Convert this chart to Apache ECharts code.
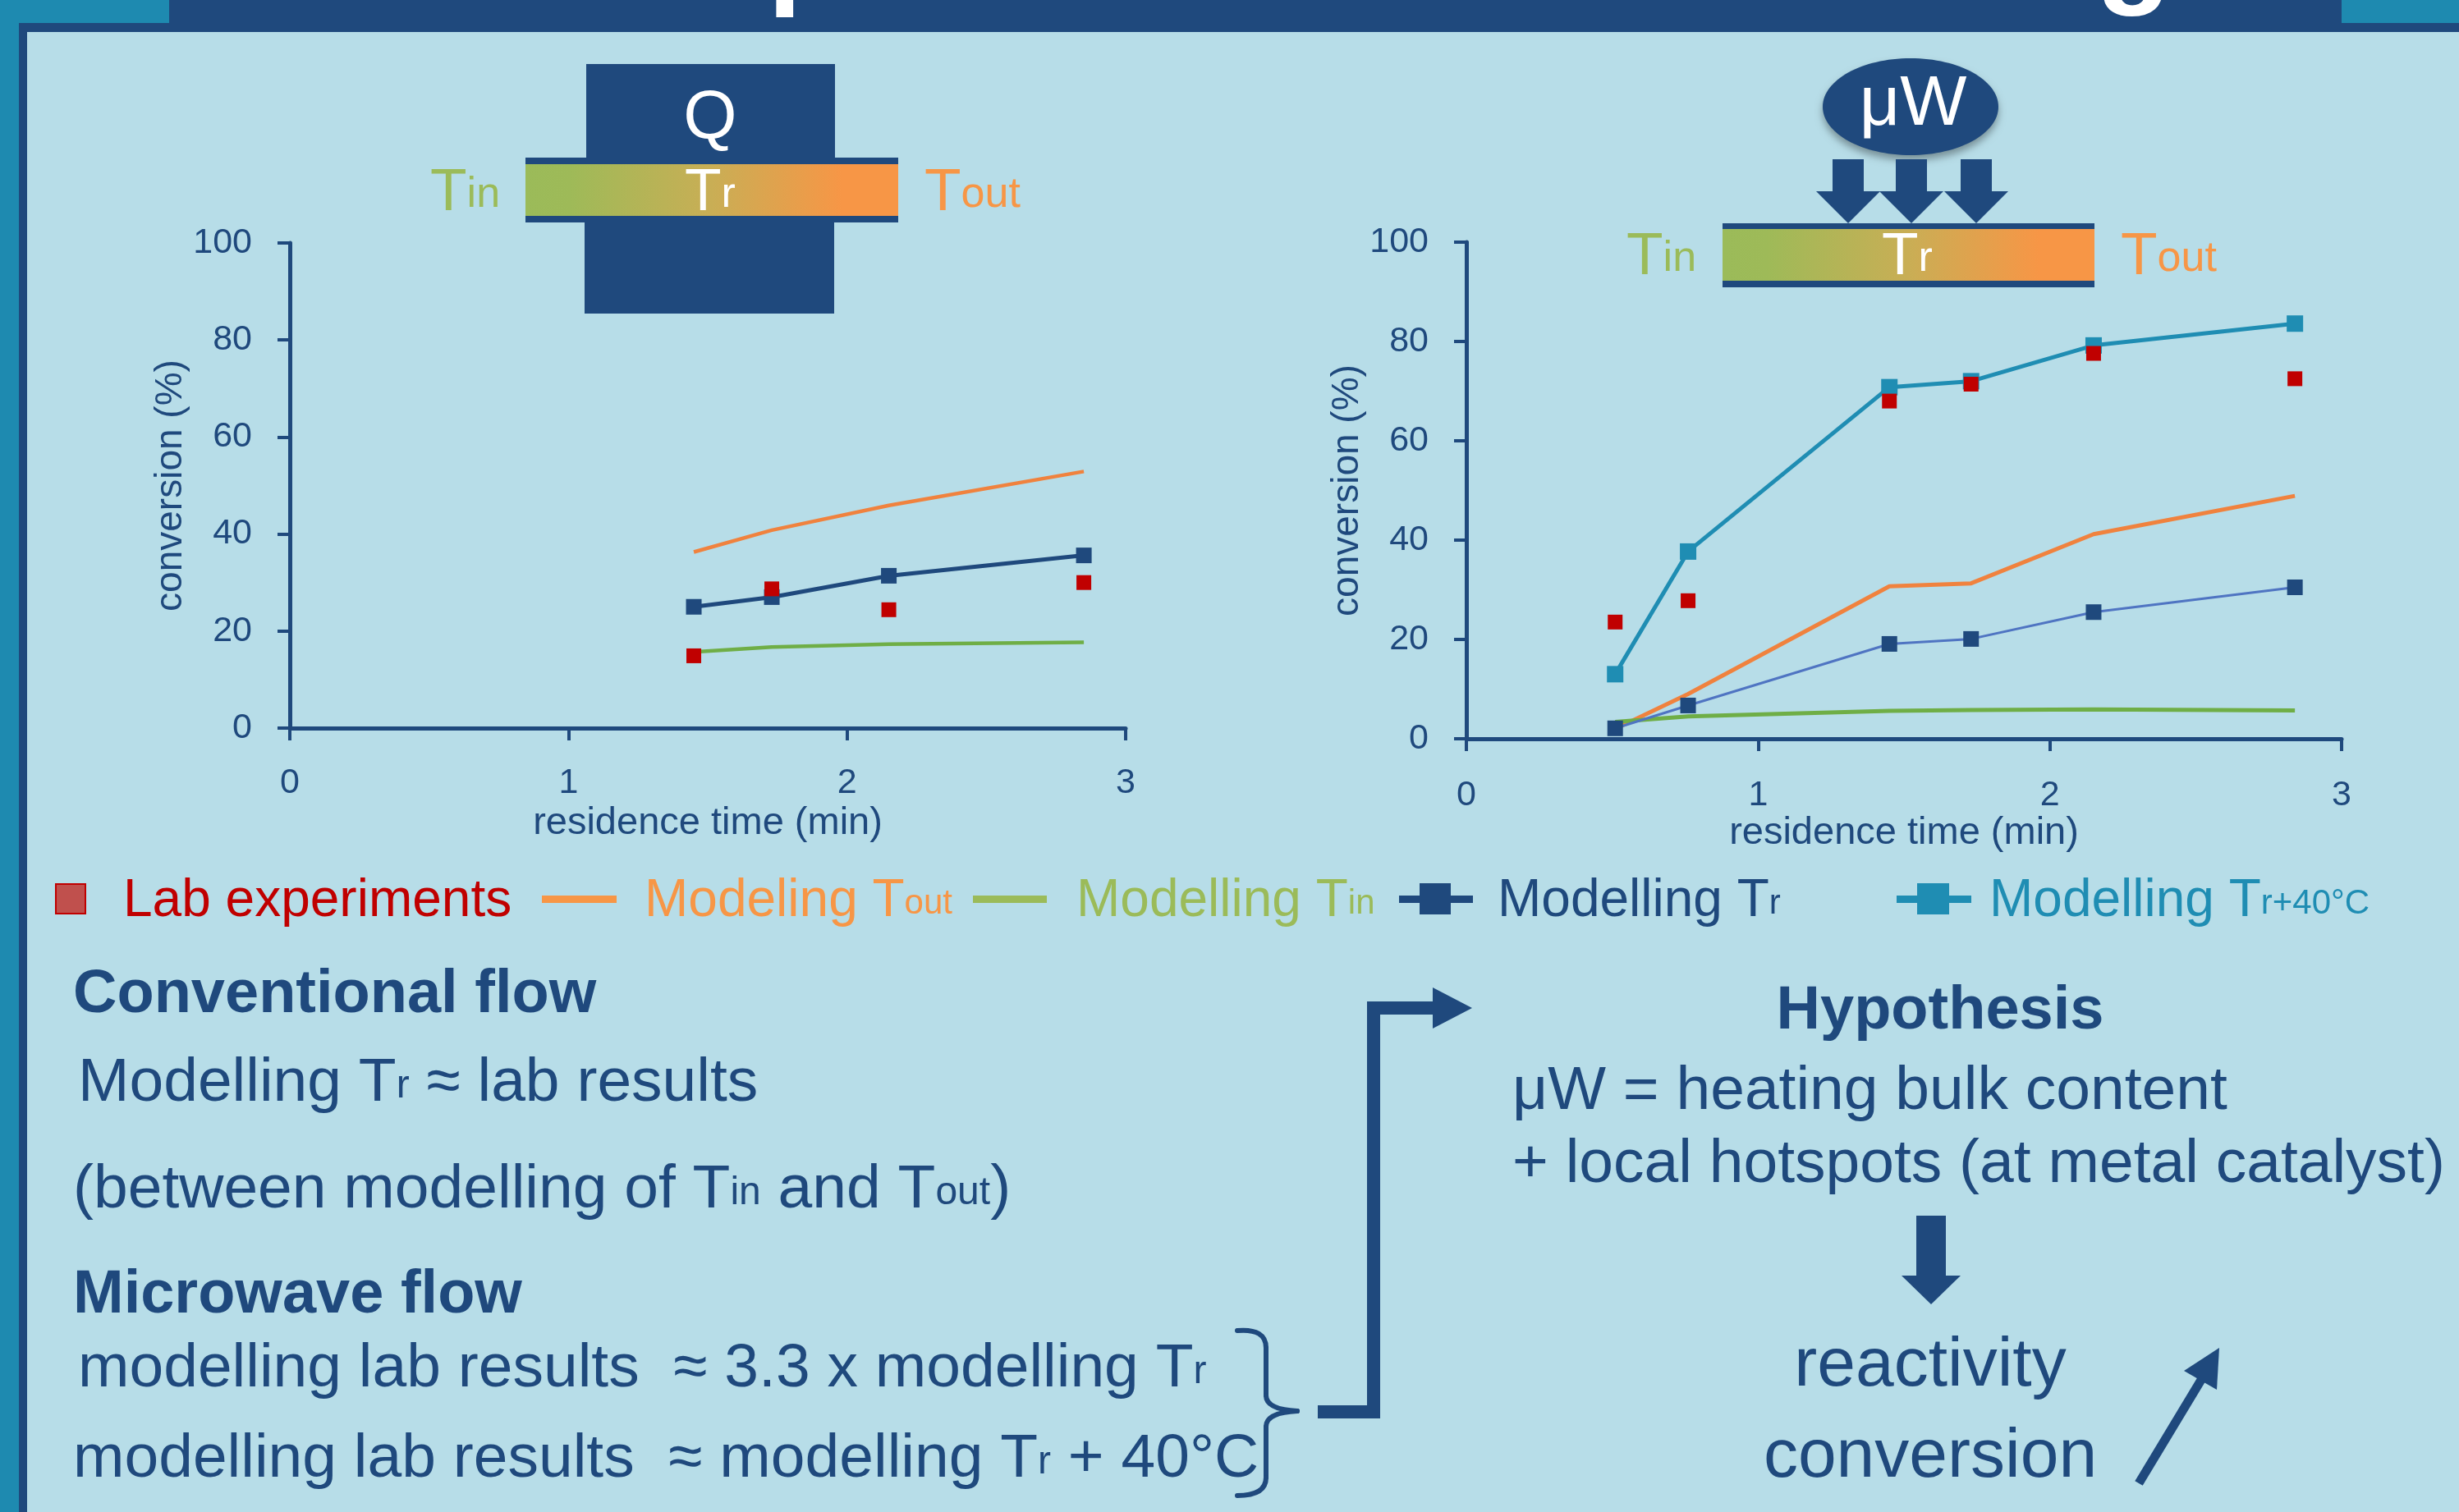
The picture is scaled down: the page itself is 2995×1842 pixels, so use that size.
<!DOCTYPE html>
<html><head><meta charset="utf-8">
<script src="https://cdn.jsdelivr.net/npm/echarts@6/dist/echarts.min.js"></script>
<style>html,body{margin:0;padding:0;background:#B7DDE8;overflow:hidden}#c{width:2995px;height:1842px}</style>
</head><body><div id="c"></div>
<script>
// ---------- DATA ----------
const xTickLabels = [0, 1, 2, 3];
const yTickLabels = [0, 20, 40, 60, 80, 100];

// Conventional flow (left chart)
const convTime = [1.45, 1.73, 2.15, 2.85];
const convLab  = [14.9, 28.7, 24.4, 30.0];
const convTout = [36.3, 40.8, 45.9, 52.9];
const convTin  = [15.7, 16.7, 17.3, 17.7];
const convTr   = [25.0, 27.0, 31.4, 35.6];

// Microwave flow (right chart)
const mwTime  = [0.51, 0.76, 1.45, 1.73, 2.15, 2.84];
const mwLab   = [23.5, 27.8, 68.0, 71.4, 77.6, 72.5];
const mwTout  = [2.0, 9.0, 30.7, 31.3, 41.2, 48.9];
const mwTin   = [3.4, 4.5, 5.6, 5.8, 5.9, 5.7];
const mwTr    = [2.1, 6.7, 19.1, 20.1, 25.5, 30.5];
const mwTr40  = [13.0, 37.7, 70.8, 72.0, 79.2, 83.6];

// ---------- STYLE ----------
const DB = '#1F497D', CY = '#1E8AB0', TEAL = '#1F8DB3', RED = '#C00000';
const ORANGE = '#F79646', GREEN = '#9BBB59', ORL = '#F0823E', GRL = '#6FAE46';
const F = '"Liberation Sans", Arial, sans-serif';

const zip = (xs, ys) => xs.map((x, i) => [x, ys[i]]);

// ---------- GRAPHIC HELPERS ----------
function rect(x, y, w, h, fill, extra) {
  return Object.assign({type: 'rect', silent: true, shape: {x, y, width: w, height: h}, style: {fill}}, extra || {});
}
function poly(points, fill) {
  return {type: 'polygon', silent: true, shape: {points}, style: {fill}};
}
function seg(x1, y1, x2, y2, w) {
  return {type: 'line', silent: true, shape: {x1, y1, x2, y2}, style: {stroke: DB, lineWidth: w, lineCap: 'round'}};
}
function qcurve(x1, y1, cx, cy, x2, y2, w) {
  return {type: 'bezierCurve', silent: true, shape: {x1, y1, cpx1: cx, cpy1: cy, x2, y2}, style: {stroke: DB, lineWidth: w, fill: 'none', lineCap: 'round'}};
}
function rtext(x, baseline, parts, color, fsMain, fsSub, opt) {
  opt = opt || {};
  const w = opt.bold ? 'bold' : 'normal';
  const pb = Math.round(0.36 * (fsMain - fsSub));
  const rich = {
    m: {fontSize: fsMain, lineHeight: fsMain, verticalAlign: 'bottom', fill: color, fontFamily: F, fontWeight: w},
    s: {fontSize: fsSub, padding: [0, 0, pb, 0], verticalAlign: 'bottom', fill: color, fontFamily: F, fontWeight: w}
  };
  return {
    type: 'text', silent: true, z: opt.z || 10,
    style: {
      text: parts.map(p => '{' + p[1] + '|' + p[0] + '}').join(''),
      rich, x, y: baseline + 0.18 * fsMain, align: opt.align || 'left', verticalAlign: 'bottom',
      fill: color, fontSize: fsMain, fontFamily: F
    }
  };
}
function grad() {
  return new echarts.graphic.LinearGradient(0, 0, 1, 0, [
    {offset: 0, color: '#9BBB59'}, {offset: 0.12, color: '#9EBA58'},
    {offset: 0.5, color: '#C9AE55'}, {offset: 0.85, color: '#F79646'}, {offset: 1, color: '#F79646'}
  ]);
}

const g = [];
// header & frame
g.push(rect(0, 0, 2995, 28, CY));
g.push(rect(206, 0, 2646, 28, DB));
g.push(rect(23, 28, 2972, 11, DB));
g.push(rect(0, 0, 23, 1842, CY));
g.push(rect(23, 28, 10, 1814, DB));
// title fragments (cut off at top)
g.push({type: 'text', silent: true, z: 20, style: {text: 'p', x: 935, y: 24, fontSize: 150, fontWeight: 'bold', fontFamily: F, fill: '#fff', align: 'left', verticalAlign: 'bottom'}});
g.push({type: 'text', silent: true, z: 20, style: {text: 'g', x: 2553, y: 22, fontSize: 150, fontWeight: 'bold', fontFamily: F, fill: '#fff', align: 'left', verticalAlign: 'bottom'}});

// left diagram (conventional heating)
g.push(rect(714, 78, 303, 114, DB));
g.push(rect(640, 192, 454, 8, DB));
g.push(rect(640, 200, 454, 63, grad()));
g.push(rect(640, 263, 454, 8, DB));
g.push(rect(712, 271, 304, 111, DB));
g.push({type: 'text', silent: true, z: 10, style: {text: 'Q', x: 865, y: 172 + 0.18 * 84, fontSize: 84, fontFamily: F, fill: '#fff', align: 'center', verticalAlign: 'bottom'}});
g.push(rtext(524, 259, [['T', 'm'], ['in', 's']], GREEN, 73, 52));
g.push(rtext(834, 259, [['T', 'm'], ['r', 's']], '#fff', 73, 52));
g.push(rtext(1126, 259, [['T', 'm'], ['out', 's']], ORANGE, 73, 52));

// right diagram (microwave)
g.push({type: 'ellipse', silent: true, shape: {cx: 2327, cy: 130, rx: 107, ry: 59},
  style: {fill: DB, shadowBlur: 10, shadowOffsetY: 6, shadowColor: 'rgba(0,0,0,0.35)'}});
g.push({type: 'text', silent: true, z: 10, style: {text: 'μW', x: 2330, y: 156 + 0.18 * 86, fontSize: 86, fontFamily: F, fill: '#fff', align: 'center', verticalAlign: 'bottom'}});
[2251, 2328, 2407].forEach(cx => {
  g.push(rect(cx - 19, 194, 38, 40, DB));
  g.push(poly([[cx - 39, 233], [cx + 39, 233], [cx, 272]], DB));
});
g.push(rect(2098, 272, 453, 7, DB));
g.push(rect(2098, 279, 453, 63, grad()));
g.push(rect(2098, 342, 453, 8, DB));
g.push(rtext(1981, 337, [['T', 'm'], ['in', 's']], GREEN, 73, 52));
g.push(rtext(2292, 337, [['T', 'm'], ['r', 's']], '#fff', 73, 52));
g.push(rtext(2583, 337, [['T', 'm'], ['out', 's']], ORANGE, 73, 52));

// legend row
g.push(rect(68, 1077, 36, 36, '#C0504D', {style: {fill: '#C0504D', stroke: RED, lineWidth: 2}}));
g.push(rtext(150, 1119, [['Lab experiments', 'm']], RED, 64, 42));
g.push(rect(660, 1091, 91, 9, ORANGE));
g.push(rtext(785, 1119, [['Modeling T', 'm'], ['out', 's']], ORANGE, 64, 42));
g.push(rect(1185, 1091, 90, 9, GREEN));
g.push(rtext(1311, 1119, [['Modelling T', 'm'], ['in', 's']], GREEN, 64, 42));
g.push(rect(1704, 1091, 90, 9, DB));
g.push(rect(1729, 1076, 38, 38, DB));
g.push(rtext(1824, 1119, [['Modelling T', 'm'], ['r', 's']], DB, 64, 42));
g.push(rect(2310, 1091, 91, 9, TEAL));
g.push(rect(2335, 1076, 39, 38, TEAL));
g.push(rtext(2423, 1119, [['Modelling T', 'm'], ['r+40°C', 's']], TEAL, 64, 42));

// bottom-left text
g.push(rtext(89, 1236, [['Conventional flow', 'm']], DB, 74, 48, {bold: true}));
g.push(rtext(95, 1344, [['Modelling T', 'm'], ['r', 's'], [' ≈ lab results', 'm']], DB, 75, 48));
g.push(rtext(89, 1474, [['(between modelling of T', 'm'], ['in', 's'], [' and T', 'm'], ['out', 's'], [')', 'm']], DB, 75, 48));
g.push(rtext(89, 1602, [['Microwave flow', 'm']], DB, 74, 48, {bold: true}));
g.push(rtext(95, 1692, [['modelling lab results  ≈ 3.3 x modelling T', 'm'], ['r', 's']], DB, 75, 48));
g.push(rtext(89, 1802, [['modelling lab results  ≈ modelling T', 'm'], ['r', 's'], [' + 40°C', 'm']], DB, 75, 48));

// brace
g.push(qcurve(1507, 1621, 1542, 1618, 1542, 1642, 6));
g.push(seg(1542, 1642, 1542, 1700, 6));
g.push(qcurve(1542, 1700, 1542, 1717, 1580, 1719, 6));
g.push(qcurve(1580, 1719, 1542, 1721, 1542, 1738, 6));
g.push(seg(1542, 1738, 1542, 1800, 6));
g.push(qcurve(1542, 1800, 1542, 1822, 1507, 1822, 6));
// connector arrow
g.push({type: 'polyline', silent: true, shape: {points: [[1605, 1720], [1673, 1720], [1673, 1228], [1752, 1228]]},
  style: {stroke: DB, lineWidth: 16, fill: 'none', lineJoin: 'miter'}});
g.push(poly([[1745, 1203], [1793, 1228], [1745, 1253]], DB));

// right text block
g.push(rtext(2363, 1256, [['Hypothesis', 'm']], DB, 74, 48, {bold: true, align: 'center'}));
g.push(rtext(1842, 1354, [['μW = heating bulk content', 'm']], DB, 75, 48));
g.push(rtext(1842, 1443, [['+ local hotspots (at metal catalyst)', 'm']], DB, 75, 48));
g.push(rect(2334, 1481, 36, 74, DB));
g.push(poly([[2316, 1554], [2388, 1554], [2352, 1589]], DB));
g.push(rtext(2351, 1692, [['reactivity', 'm']], DB, 84, 48, {align: 'center'}));
g.push(rtext(2351, 1803, [['conversion', 'm']], DB, 84, 48, {align: 'center'}));
g.push({type: 'line', silent: true, shape: {x1: 2605, y1: 1807, x2: 2684, y2: 1676}, style: {stroke: DB, lineWidth: 11}});
g.push(poly([[2703, 1642], [2660, 1670], [2700, 1693]], DB));

// ---------- AXES ----------
function xAx(gi, gap, margin) {
  return {
    gridIndex: gi, type: 'value', min: xTickLabels[0], max: xTickLabels[xTickLabels.length - 1],
    interval: xTickLabels[1] - xTickLabels[0],
    name: 'residence time (min)', nameLocation: 'middle', nameGap: gap,
    nameTextStyle: {fontSize: 47, color: DB, fontFamily: F},
    axisLine: {show: true, onZero: false, lineStyle: {color: DB, width: 5}},
    axisTick: {show: true, length: 15, lineStyle: {color: DB, width: 4}},
    axisLabel: {fontSize: 43, color: DB, margin, fontFamily: F},
    splitLine: {show: false}
  };
}
function yAx(gi, gap, margin) {
  return {
    gridIndex: gi, type: 'value', min: yTickLabels[0], max: yTickLabels[yTickLabels.length - 1],
    interval: yTickLabels[1] - yTickLabels[0],
    name: 'conversion (%)', nameLocation: 'middle', nameGap: gap,
    nameTextStyle: {fontSize: 46, color: DB, fontFamily: F},
    axisLine: {show: true, onZero: false, lineStyle: {color: DB, width: 5}},
    axisTick: {show: true, length: 15, lineStyle: {color: DB, width: 4}},
    axisLabel: {fontSize: 43, color: DB, margin, fontFamily: F},
    splitLine: {show: false}
  };
}
function lineS(gi, xs, ys, color, width, z) {
  return {type: 'line', xAxisIndex: gi, yAxisIndex: gi, data: zip(xs, ys), symbol: 'none', showSymbol: false,
    lineStyle: {color, width}, itemStyle: {color}, z: z || 2, silent: true, animation: false};
}
function markS(gi, xs, ys, lineColor, width, markColor, size, z) {
  return {type: 'line', xAxisIndex: gi, yAxisIndex: gi, data: zip(xs, ys), symbol: 'rect', symbolSize: size, showSymbol: true,
    lineStyle: {color: lineColor, width}, itemStyle: {color: markColor}, z: z || 3, silent: true, animation: false};
}
function labS(gi, xs, ys) {
  return {type: 'scatter', xAxisIndex: gi, yAxisIndex: gi, data: zip(xs, ys), symbol: 'rect', symbolSize: 18,
    itemStyle: {color: RED, opacity: 1}, z: 6, silent: true, animation: false};
}

const chart = echarts.init(document.getElementById('c'), null, {renderer: 'canvas'});
chart.setOption({
  backgroundColor: '#B7DDE8',
  animation: false,
  grid: [
    {left: 353, top: 296, width: 1018, height: 591},
    {left: 1786, top: 295, width: 1066, height: 605}
  ],
  xAxis: [xAx(0, 93, 46), xAx(1, 92, 48)],
  yAxis: [yAx(0, 114, 46), yAx(1, 102, 46)],
  series: [
    lineS(0, convTime, convTout, ORL, 4.5),
    lineS(0, convTime, convTin, GRL, 4.5),
    markS(0, convTime, convTr, DB, 5, DB, 19),
    labS(0, convTime, convLab),
    lineS(1, mwTime, mwTout, ORL, 5),
    lineS(1, mwTime, mwTin, GRL, 5),
    markS(1, mwTime, mwTr, '#4F74C2', 3, DB, 19),
    markS(1, mwTime, mwTr40, TEAL, 5, TEAL, 20),
    labS(1, mwTime, mwLab)
  ],
  graphic: {elements: g}
});
</script>
</body></html>
